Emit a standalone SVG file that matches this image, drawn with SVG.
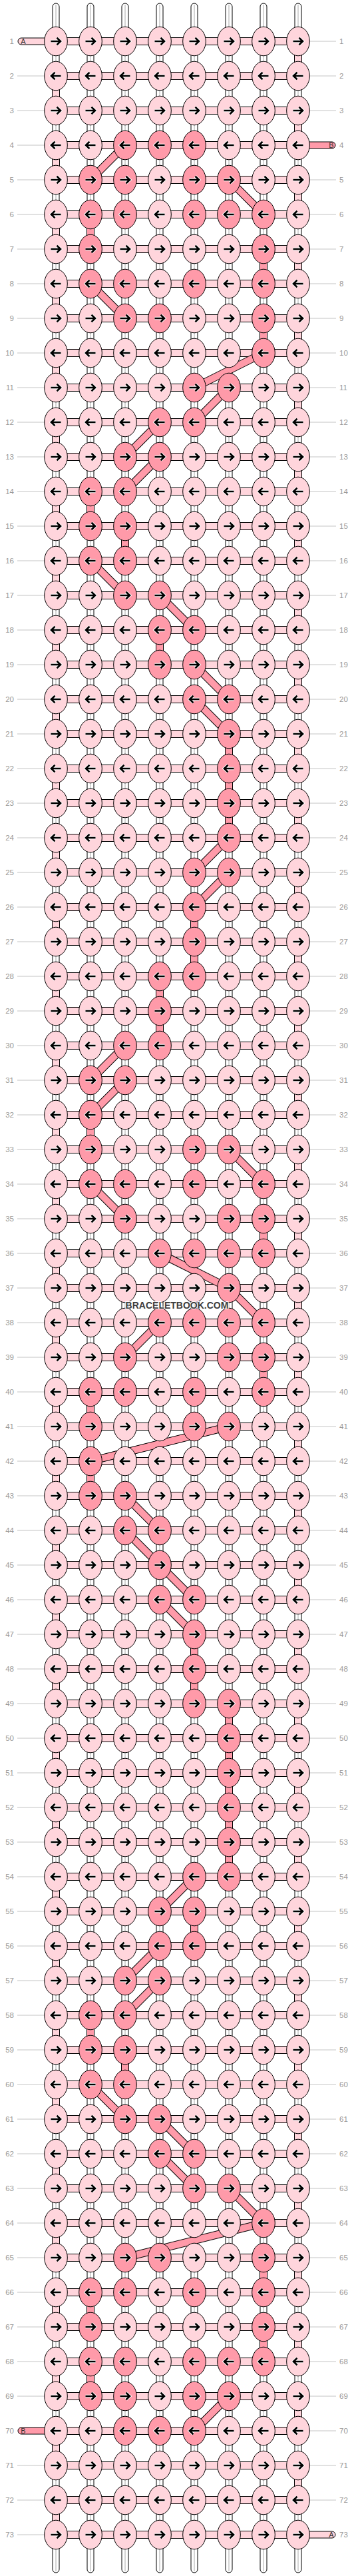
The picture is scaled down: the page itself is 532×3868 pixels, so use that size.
<svg xmlns="http://www.w3.org/2000/svg" xmlns:xlink="http://www.w3.org/1999/xlink" width="532" height="3868" viewBox="0 0 532 3868">
<style>
.t{font-family:"Liberation Sans",Arial,sans-serif;font-size:11.5px;fill:#999}
.lab{font-family:"Liberation Sans",Arial,sans-serif;font-size:11px;fill:#333;text-anchor:middle}
.ws{fill:#fff;stroke:#000;stroke-width:1}
.lt{fill:#ffd5dc;stroke:#000;stroke-width:1}
.dk{fill:#ff9aa9;stroke:#000;stroke-width:1}
.wm{font-family:"Liberation Sans",Arial,sans-serif;font-size:14px;font-weight:bold;fill:#3c3c3c;stroke:#fff;stroke-width:2;paint-order:stroke;text-anchor:middle}
</style>
<defs>
<g id="ar"><path d="M-7.5 0H6M1.5-5.2L7 0 1.5 5.2" fill="none" stroke="#fff" stroke-width="4.6"/><path d="M-7.5 0H6M1.5-5.2L7 0 1.5 5.2" fill="none" stroke="#000" stroke-width="2.6"/></g>
<g id="a"><ellipse rx="17.3" ry="21.8" class="lt"/><use href="#ar"/></g>
<g id="b"><ellipse rx="17.3" ry="21.8" class="lt"/><use href="#ar" transform="scale(-1 1)"/></g>
<g id="c"><ellipse rx="17.3" ry="21.8" class="dk"/><use href="#ar"/></g>
<g id="d"><ellipse rx="17.3" ry="21.8" class="dk"/><use href="#ar" transform="scale(-1 1)"/></g>
<path id="hp" d="M84 62H448M84 114H448M84 166H448M84 218H448M84 270H448M84 322H448M84 374H448M84 426H448M84 478H448M84 530H448M84 582H448M84 634H448M84 686H448M84 738H448M84 790H448M84 842H448M84 894H448M84 946H448M84 998H448M84 1050H448M84 1102H448M84 1154H448M84 1206H448M84 1258H448M84 1310H448M84 1362H448M84 1414H448M84 1466H448M84 1518H448M84 1570H448M84 1622H448M84 1674H448M84 1726H448M84 1778H448M84 1830H448M84 1882H448M84 1934H448M84 1986H448M84 2038H448M84 2090H448M84 2142H448M84 2194H448M84 2246H448M84 2298H448M84 2350H448M84 2402H448M84 2454H448M84 2506H448M84 2558H448M84 2610H448M84 2662H448M84 2714H448M84 2766H448M84 2818H448M84 2870H448M84 2922H448M84 2974H448M84 3026H448M84 3078H448M84 3130H448M84 3182H448M84 3234H448M84 3286H448M84 3338H448M84 3390H448M84 3442H448M84 3494H448M84 3546H448M84 3598H448M84 3650H448M84 3702H448M84 3754H448M84 3806H448"/>
<path id="ep" d="M448 62V3754M84 114V3806"/>
<path id="bp" d="M188 218L136 270M344 270L396 322M136 322V374M396 374V426M136 426L188 478M396 478V530M396 530L292 582M344 582L292 634M240 634L188 686M240 686L188 738M136 738V790M188 790V842M136 842L188 894M240 894L292 946M240 946V998M292 998L344 1050M292 1050L344 1102M344 1102V1258M344 1258L292 1310M344 1310L292 1362M292 1362V1466M240 1466V1570M188 1570L136 1622M188 1622L136 1674M136 1674V1726M344 1726L396 1778M136 1778L188 1830M396 1830V1882M240 1882L344 1934M344 1934L396 1986M240 1986L188 2038M396 2038V2090M136 2090V2142M344 2142L136 2194M136 2194V2246M188 2246L240 2298M188 2298L240 2350M240 2350L292 2402M240 2402L292 2454M292 2454V2558M344 2558V2818M292 2818L240 2870M292 2870V2922M240 2922L188 2974M240 2974L188 3026M136 3026V3078M188 3078V3130M136 3130L188 3182M240 3182L292 3234M240 3234L292 3286M344 3286L396 3338M396 3338L188 3390M396 3390V3442M136 3442V3494M396 3494V3546M136 3546V3598M344 3598L292 3650"/>
</defs>
<rect width="532" height="3868" fill="#fff"/>
<g id="strands">
<rect class="ws" x="79" y="5" width="10" height="3858" rx="5"/><rect class="ws" x="131" y="5" width="10" height="3858" rx="5"/><rect class="ws" x="183" y="5" width="10" height="3858" rx="5"/><rect class="ws" x="235" y="5" width="10" height="3858" rx="5"/><rect class="ws" x="287" y="5" width="10" height="3858" rx="5"/><rect class="ws" x="339" y="5" width="10" height="3858" rx="5"/><rect class="ws" x="391" y="5" width="10" height="3858" rx="5"/><rect class="ws" x="443" y="5" width="10" height="3858" rx="5"/>
<path d="M84 7V3861M136 7V3861M188 7V3861M240 7V3861M292 7V3861M344 7V3861M396 7V3861M448 7V3861" stroke="#aaa" stroke-width="1"/>
</g>
<g id="labels">
<path stroke="#c4c4c4" stroke-width="1" d="M26 114H66M26 166H66M26 218H66M26 270H66M26 322H66M26 374H66M26 426H66M26 478H66M26 530H66M26 582H66M26 634H66M26 686H66M26 738H66M26 790H66M26 842H66M26 894H66M26 946H66M26 998H66M26 1050H66M26 1102H66M26 1154H66M26 1206H66M26 1258H66M26 1310H66M26 1362H66M26 1414H66M26 1466H66M26 1518H66M26 1570H66M26 1622H66M26 1674H66M26 1726H66M26 1778H66M26 1830H66M26 1882H66M26 1934H66M26 1986H66M26 2038H66M26 2090H66M26 2142H66M26 2194H66M26 2246H66M26 2298H66M26 2350H66M26 2402H66M26 2454H66M26 2506H66M26 2558H66M26 2610H66M26 2662H66M26 2714H66M26 2766H66M26 2818H66M26 2870H66M26 2922H66M26 2974H66M26 3026H66M26 3078H66M26 3130H66M26 3182H66M26 3234H66M26 3286H66M26 3338H66M26 3390H66M26 3442H66M26 3494H66M26 3546H66M26 3598H66M26 3702H66M26 3754H66M26 3806H66
M466 62H505M466 114H505M466 166H505M466 270H505M466 322H505M466 374H505M466 426H505M466 478H505M466 530H505M466 582H505M466 634H505M466 686H505M466 738H505M466 790H505M466 842H505M466 894H505M466 946H505M466 998H505M466 1050H505M466 1102H505M466 1154H505M466 1206H505M466 1258H505M466 1310H505M466 1362H505M466 1414H505M466 1466H505M466 1518H505M466 1570H505M466 1622H505M466 1674H505M466 1726H505M466 1778H505M466 1830H505M466 1882H505M466 1934H505M466 1986H505M466 2038H505M466 2090H505M466 2142H505M466 2194H505M466 2246H505M466 2298H505M466 2350H505M466 2402H505M466 2454H505M466 2506H505M466 2558H505M466 2610H505M466 2662H505M466 2714H505M466 2766H505M466 2818H505M466 2870H505M466 2922H505M466 2974H505M466 3026H505M466 3078H505M466 3130H505M466 3182H505M466 3234H505M466 3286H505M466 3338H505M466 3390H505M466 3442H505M466 3494H505M466 3546H505M466 3598H505M466 3650H505M466 3702H505M466 3754H505"/>
<g class="t" text-anchor="end" transform="translate(21 4)">
<text y="62">1</text><text y="114">2</text><text y="166">3</text><text y="218">4</text><text y="270">5</text><text y="322">6</text><text y="374">7</text><text y="426">8</text><text y="478">9</text><text y="530">10</text><text y="582">11</text><text y="634">12</text><text y="686">13</text><text y="738">14</text><text y="790">15</text><text y="842">16</text><text y="894">17</text><text y="946">18</text><text y="998">19</text><text y="1050">20</text><text y="1102">21</text><text y="1154">22</text><text y="1206">23</text><text y="1258">24</text><text y="1310">25</text><text y="1362">26</text><text y="1414">27</text><text y="1466">28</text><text y="1518">29</text><text y="1570">30</text><text y="1622">31</text><text y="1674">32</text><text y="1726">33</text><text y="1778">34</text><text y="1830">35</text><text y="1882">36</text><text y="1934">37</text><text y="1986">38</text><text y="2038">39</text><text y="2090">40</text><text y="2142">41</text><text y="2194">42</text><text y="2246">43</text><text y="2298">44</text><text y="2350">45</text><text y="2402">46</text><text y="2454">47</text><text y="2506">48</text><text y="2558">49</text><text y="2610">50</text><text y="2662">51</text><text y="2714">52</text><text y="2766">53</text><text y="2818">54</text><text y="2870">55</text><text y="2922">56</text><text y="2974">57</text><text y="3026">58</text><text y="3078">59</text><text y="3130">60</text><text y="3182">61</text><text y="3234">62</text><text y="3286">63</text><text y="3338">64</text><text y="3390">65</text><text y="3442">66</text><text y="3494">67</text><text y="3546">68</text><text y="3598">69</text><text y="3650">70</text><text y="3702">71</text><text y="3754">72</text><text y="3806">73</text>
</g>
<g class="t" transform="translate(510 4)">
<text y="62">1</text><text y="114">2</text><text y="166">3</text><text y="218">4</text><text y="270">5</text><text y="322">6</text><text y="374">7</text><text y="426">8</text><text y="478">9</text><text y="530">10</text><text y="582">11</text><text y="634">12</text><text y="686">13</text><text y="738">14</text><text y="790">15</text><text y="842">16</text><text y="894">17</text><text y="946">18</text><text y="998">19</text><text y="1050">20</text><text y="1102">21</text><text y="1154">22</text><text y="1206">23</text><text y="1258">24</text><text y="1310">25</text><text y="1362">26</text><text y="1414">27</text><text y="1466">28</text><text y="1518">29</text><text y="1570">30</text><text y="1622">31</text><text y="1674">32</text><text y="1726">33</text><text y="1778">34</text><text y="1830">35</text><text y="1882">36</text><text y="1934">37</text><text y="1986">38</text><text y="2038">39</text><text y="2090">40</text><text y="2142">41</text><text y="2194">42</text><text y="2246">43</text><text y="2298">44</text><text y="2350">45</text><text y="2402">46</text><text y="2454">47</text><text y="2506">48</text><text y="2558">49</text><text y="2610">50</text><text y="2662">51</text><text y="2714">52</text><text y="2766">53</text><text y="2818">54</text><text y="2870">55</text><text y="2922">56</text><text y="2974">57</text><text y="3026">58</text><text y="3078">59</text><text y="3130">60</text><text y="3182">61</text><text y="3234">62</text><text y="3286">63</text><text y="3338">64</text><text y="3390">65</text><text y="3442">66</text><text y="3494">67</text><text y="3546">68</text><text y="3598">69</text><text y="3650">70</text><text y="3702">71</text><text y="3754">72</text><text y="3806">73</text>
</g>
</g>
<g id="connectors">
<use href="#hp" fill="none" stroke="#000" stroke-width="12"/>
<use href="#hp" fill="none" stroke="#ffd5dc" stroke-width="10"/>
<use href="#ep" fill="none" stroke="#000" stroke-width="12" stroke-dasharray="52 52"/>
<use href="#ep" fill="none" stroke="#ffd5dc" stroke-width="10" stroke-dasharray="52 52"/>
<rect x="27" y="57" width="62" height="10" rx="5" class="lt"/>
<rect x="443" y="3801" width="61" height="10" rx="5" class="lt"/>
<rect x="443" y="213" width="61" height="10" rx="5" class="dk"/>
<rect x="27" y="3645" width="62" height="10" rx="5" class="dk"/>
<use href="#bp" fill="none" stroke="#000" stroke-width="12"/>
<use href="#bp" fill="none" stroke="#ff9aa9" stroke-width="10"/>
<text class="lab" x="35" y="66">A</text>
<text class="lab" x="498" y="222">B</text>
<text class="lab" x="35" y="3654">B</text>
<text class="lab" x="498" y="3810">A</text>
</g>
<g id="knots">
<g transform="translate(0 62)"><g id="k1-1"><use href="#a" x="84"/></g><g id="k1-2"><use href="#a" x="136"/></g><g id="k1-3"><use href="#a" x="188"/></g><g id="k1-4"><use href="#a" x="240"/></g><g id="k1-5"><use href="#a" x="292"/></g><g id="k1-6"><use href="#a" x="344"/></g><g id="k1-7"><use href="#a" x="396"/></g><g id="k1-8"><use href="#a" x="448"/></g></g>
<g transform="translate(0 114)"><g id="k2-1"><use href="#b" x="84"/></g><g id="k2-2"><use href="#b" x="136"/></g><g id="k2-3"><use href="#b" x="188"/></g><g id="k2-4"><use href="#b" x="240"/></g><g id="k2-5"><use href="#b" x="292"/></g><g id="k2-6"><use href="#b" x="344"/></g><g id="k2-7"><use href="#b" x="396"/></g><g id="k2-8"><use href="#b" x="448"/></g></g>
<g transform="translate(0 166)"><g id="k3-1"><use href="#a" x="84"/></g><g id="k3-2"><use href="#a" x="136"/></g><g id="k3-3"><use href="#a" x="188"/></g><g id="k3-4"><use href="#a" x="240"/></g><g id="k3-5"><use href="#a" x="292"/></g><g id="k3-6"><use href="#a" x="344"/></g><g id="k3-7"><use href="#a" x="396"/></g><g id="k3-8"><use href="#a" x="448"/></g></g>
<g transform="translate(0 218)"><g id="k4-1"><use href="#b" x="84"/></g><g id="k4-2"><use href="#b" x="136"/></g><g id="k4-3"><use href="#d" x="188"/></g><g id="k4-4"><use href="#d" x="240"/></g><g id="k4-5"><use href="#d" x="292"/></g><g id="k4-6"><use href="#b" x="344"/></g><g id="k4-7"><use href="#b" x="396"/></g><g id="k4-8"><use href="#b" x="448"/></g></g>
<g transform="translate(0 270)"><g id="k5-1"><use href="#a" x="84"/></g><g id="k5-2"><use href="#c" x="136"/></g><g id="k5-3"><use href="#c" x="188"/></g><g id="k5-4"><use href="#a" x="240"/></g><g id="k5-5"><use href="#c" x="292"/></g><g id="k5-6"><use href="#c" x="344"/></g><g id="k5-7"><use href="#a" x="396"/></g><g id="k5-8"><use href="#a" x="448"/></g></g>
<g transform="translate(0 322)"><g id="k6-1"><use href="#b" x="84"/></g><g id="k6-2"><use href="#d" x="136"/></g><g id="k6-3"><use href="#d" x="188"/></g><g id="k6-4"><use href="#b" x="240"/></g><g id="k6-5"><use href="#d" x="292"/></g><g id="k6-6"><use href="#d" x="344"/></g><g id="k6-7"><use href="#d" x="396"/></g><g id="k6-8"><use href="#b" x="448"/></g></g>
<g transform="translate(0 374)"><g id="k7-1"><use href="#a" x="84"/></g><g id="k7-2"><use href="#c" x="136"/></g><g id="k7-3"><use href="#a" x="188"/></g><g id="k7-4"><use href="#a" x="240"/></g><g id="k7-5"><use href="#a" x="292"/></g><g id="k7-6"><use href="#a" x="344"/></g><g id="k7-7"><use href="#c" x="396"/></g><g id="k7-8"><use href="#a" x="448"/></g></g>
<g transform="translate(0 426)"><g id="k8-1"><use href="#b" x="84"/></g><g id="k8-2"><use href="#d" x="136"/></g><g id="k8-3"><use href="#d" x="188"/></g><g id="k8-4"><use href="#b" x="240"/></g><g id="k8-5"><use href="#d" x="292"/></g><g id="k8-6"><use href="#b" x="344"/></g><g id="k8-7"><use href="#d" x="396"/></g><g id="k8-8"><use href="#b" x="448"/></g></g>
<g transform="translate(0 478)"><g id="k9-1"><use href="#a" x="84"/></g><g id="k9-2"><use href="#a" x="136"/></g><g id="k9-3"><use href="#c" x="188"/></g><g id="k9-4"><use href="#c" x="240"/></g><g id="k9-5"><use href="#a" x="292"/></g><g id="k9-6"><use href="#a" x="344"/></g><g id="k9-7"><use href="#c" x="396"/></g><g id="k9-8"><use href="#a" x="448"/></g></g>
<g transform="translate(0 530)"><g id="k10-1"><use href="#b" x="84"/></g><g id="k10-2"><use href="#b" x="136"/></g><g id="k10-3"><use href="#b" x="188"/></g><g id="k10-4"><use href="#b" x="240"/></g><g id="k10-5"><use href="#b" x="292"/></g><g id="k10-6"><use href="#b" x="344"/></g><g id="k10-7"><use href="#d" x="396"/></g><g id="k10-8"><use href="#b" x="448"/></g></g>
<g transform="translate(0 582)"><g id="k11-1"><use href="#a" x="84"/></g><g id="k11-2"><use href="#a" x="136"/></g><g id="k11-3"><use href="#a" x="188"/></g><g id="k11-4"><use href="#a" x="240"/></g><g id="k11-5"><use href="#c" x="292"/></g><g id="k11-6"><use href="#c" x="344"/></g><g id="k11-7"><use href="#a" x="396"/></g><g id="k11-8"><use href="#a" x="448"/></g></g>
<g transform="translate(0 634)"><g id="k12-1"><use href="#b" x="84"/></g><g id="k12-2"><use href="#b" x="136"/></g><g id="k12-3"><use href="#b" x="188"/></g><g id="k12-4"><use href="#d" x="240"/></g><g id="k12-5"><use href="#d" x="292"/></g><g id="k12-6"><use href="#b" x="344"/></g><g id="k12-7"><use href="#b" x="396"/></g><g id="k12-8"><use href="#b" x="448"/></g></g>
<g transform="translate(0 686)"><g id="k13-1"><use href="#a" x="84"/></g><g id="k13-2"><use href="#a" x="136"/></g><g id="k13-3"><use href="#c" x="188"/></g><g id="k13-4"><use href="#c" x="240"/></g><g id="k13-5"><use href="#a" x="292"/></g><g id="k13-6"><use href="#a" x="344"/></g><g id="k13-7"><use href="#a" x="396"/></g><g id="k13-8"><use href="#a" x="448"/></g></g>
<g transform="translate(0 738)"><g id="k14-1"><use href="#b" x="84"/></g><g id="k14-2"><use href="#d" x="136"/></g><g id="k14-3"><use href="#d" x="188"/></g><g id="k14-4"><use href="#b" x="240"/></g><g id="k14-5"><use href="#b" x="292"/></g><g id="k14-6"><use href="#b" x="344"/></g><g id="k14-7"><use href="#b" x="396"/></g><g id="k14-8"><use href="#b" x="448"/></g></g>
<g transform="translate(0 790)"><g id="k15-1"><use href="#a" x="84"/></g><g id="k15-2"><use href="#c" x="136"/></g><g id="k15-3"><use href="#c" x="188"/></g><g id="k15-4"><use href="#a" x="240"/></g><g id="k15-5"><use href="#a" x="292"/></g><g id="k15-6"><use href="#a" x="344"/></g><g id="k15-7"><use href="#a" x="396"/></g><g id="k15-8"><use href="#a" x="448"/></g></g>
<g transform="translate(0 842)"><g id="k16-1"><use href="#b" x="84"/></g><g id="k16-2"><use href="#d" x="136"/></g><g id="k16-3"><use href="#d" x="188"/></g><g id="k16-4"><use href="#b" x="240"/></g><g id="k16-5"><use href="#b" x="292"/></g><g id="k16-6"><use href="#b" x="344"/></g><g id="k16-7"><use href="#b" x="396"/></g><g id="k16-8"><use href="#b" x="448"/></g></g>
<g transform="translate(0 894)"><g id="k17-1"><use href="#a" x="84"/></g><g id="k17-2"><use href="#a" x="136"/></g><g id="k17-3"><use href="#c" x="188"/></g><g id="k17-4"><use href="#c" x="240"/></g><g id="k17-5"><use href="#a" x="292"/></g><g id="k17-6"><use href="#a" x="344"/></g><g id="k17-7"><use href="#a" x="396"/></g><g id="k17-8"><use href="#a" x="448"/></g></g>
<g transform="translate(0 946)"><g id="k18-1"><use href="#b" x="84"/></g><g id="k18-2"><use href="#b" x="136"/></g><g id="k18-3"><use href="#b" x="188"/></g><g id="k18-4"><use href="#d" x="240"/></g><g id="k18-5"><use href="#d" x="292"/></g><g id="k18-6"><use href="#b" x="344"/></g><g id="k18-7"><use href="#b" x="396"/></g><g id="k18-8"><use href="#b" x="448"/></g></g>
<g transform="translate(0 998)"><g id="k19-1"><use href="#a" x="84"/></g><g id="k19-2"><use href="#a" x="136"/></g><g id="k19-3"><use href="#a" x="188"/></g><g id="k19-4"><use href="#c" x="240"/></g><g id="k19-5"><use href="#c" x="292"/></g><g id="k19-6"><use href="#a" x="344"/></g><g id="k19-7"><use href="#a" x="396"/></g><g id="k19-8"><use href="#a" x="448"/></g></g>
<g transform="translate(0 1050)"><g id="k20-1"><use href="#b" x="84"/></g><g id="k20-2"><use href="#b" x="136"/></g><g id="k20-3"><use href="#b" x="188"/></g><g id="k20-4"><use href="#b" x="240"/></g><g id="k20-5"><use href="#d" x="292"/></g><g id="k20-6"><use href="#d" x="344"/></g><g id="k20-7"><use href="#b" x="396"/></g><g id="k20-8"><use href="#b" x="448"/></g></g>
<g transform="translate(0 1102)"><g id="k21-1"><use href="#a" x="84"/></g><g id="k21-2"><use href="#a" x="136"/></g><g id="k21-3"><use href="#a" x="188"/></g><g id="k21-4"><use href="#a" x="240"/></g><g id="k21-5"><use href="#a" x="292"/></g><g id="k21-6"><use href="#c" x="344"/></g><g id="k21-7"><use href="#a" x="396"/></g><g id="k21-8"><use href="#a" x="448"/></g></g>
<g transform="translate(0 1154)"><g id="k22-1"><use href="#b" x="84"/></g><g id="k22-2"><use href="#b" x="136"/></g><g id="k22-3"><use href="#b" x="188"/></g><g id="k22-4"><use href="#b" x="240"/></g><g id="k22-5"><use href="#b" x="292"/></g><g id="k22-6"><use href="#d" x="344"/></g><g id="k22-7"><use href="#b" x="396"/></g><g id="k22-8"><use href="#b" x="448"/></g></g>
<g transform="translate(0 1206)"><g id="k23-1"><use href="#a" x="84"/></g><g id="k23-2"><use href="#a" x="136"/></g><g id="k23-3"><use href="#a" x="188"/></g><g id="k23-4"><use href="#a" x="240"/></g><g id="k23-5"><use href="#a" x="292"/></g><g id="k23-6"><use href="#c" x="344"/></g><g id="k23-7"><use href="#a" x="396"/></g><g id="k23-8"><use href="#a" x="448"/></g></g>
<g transform="translate(0 1258)"><g id="k24-1"><use href="#b" x="84"/></g><g id="k24-2"><use href="#b" x="136"/></g><g id="k24-3"><use href="#b" x="188"/></g><g id="k24-4"><use href="#b" x="240"/></g><g id="k24-5"><use href="#b" x="292"/></g><g id="k24-6"><use href="#d" x="344"/></g><g id="k24-7"><use href="#b" x="396"/></g><g id="k24-8"><use href="#b" x="448"/></g></g>
<g transform="translate(0 1310)"><g id="k25-1"><use href="#a" x="84"/></g><g id="k25-2"><use href="#a" x="136"/></g><g id="k25-3"><use href="#a" x="188"/></g><g id="k25-4"><use href="#a" x="240"/></g><g id="k25-5"><use href="#c" x="292"/></g><g id="k25-6"><use href="#c" x="344"/></g><g id="k25-7"><use href="#a" x="396"/></g><g id="k25-8"><use href="#a" x="448"/></g></g>
<g transform="translate(0 1362)"><g id="k26-1"><use href="#b" x="84"/></g><g id="k26-2"><use href="#b" x="136"/></g><g id="k26-3"><use href="#b" x="188"/></g><g id="k26-4"><use href="#b" x="240"/></g><g id="k26-5"><use href="#d" x="292"/></g><g id="k26-6"><use href="#b" x="344"/></g><g id="k26-7"><use href="#b" x="396"/></g><g id="k26-8"><use href="#b" x="448"/></g></g>
<g transform="translate(0 1414)"><g id="k27-1"><use href="#a" x="84"/></g><g id="k27-2"><use href="#a" x="136"/></g><g id="k27-3"><use href="#a" x="188"/></g><g id="k27-4"><use href="#a" x="240"/></g><g id="k27-5"><use href="#c" x="292"/></g><g id="k27-6"><use href="#a" x="344"/></g><g id="k27-7"><use href="#a" x="396"/></g><g id="k27-8"><use href="#a" x="448"/></g></g>
<g transform="translate(0 1466)"><g id="k28-1"><use href="#b" x="84"/></g><g id="k28-2"><use href="#b" x="136"/></g><g id="k28-3"><use href="#b" x="188"/></g><g id="k28-4"><use href="#d" x="240"/></g><g id="k28-5"><use href="#d" x="292"/></g><g id="k28-6"><use href="#b" x="344"/></g><g id="k28-7"><use href="#b" x="396"/></g><g id="k28-8"><use href="#b" x="448"/></g></g>
<g transform="translate(0 1518)"><g id="k29-1"><use href="#a" x="84"/></g><g id="k29-2"><use href="#a" x="136"/></g><g id="k29-3"><use href="#a" x="188"/></g><g id="k29-4"><use href="#c" x="240"/></g><g id="k29-5"><use href="#a" x="292"/></g><g id="k29-6"><use href="#a" x="344"/></g><g id="k29-7"><use href="#a" x="396"/></g><g id="k29-8"><use href="#a" x="448"/></g></g>
<g transform="translate(0 1570)"><g id="k30-1"><use href="#b" x="84"/></g><g id="k30-2"><use href="#b" x="136"/></g><g id="k30-3"><use href="#d" x="188"/></g><g id="k30-4"><use href="#d" x="240"/></g><g id="k30-5"><use href="#b" x="292"/></g><g id="k30-6"><use href="#b" x="344"/></g><g id="k30-7"><use href="#b" x="396"/></g><g id="k30-8"><use href="#b" x="448"/></g></g>
<g transform="translate(0 1622)"><g id="k31-1"><use href="#a" x="84"/></g><g id="k31-2"><use href="#c" x="136"/></g><g id="k31-3"><use href="#c" x="188"/></g><g id="k31-4"><use href="#a" x="240"/></g><g id="k31-5"><use href="#a" x="292"/></g><g id="k31-6"><use href="#a" x="344"/></g><g id="k31-7"><use href="#a" x="396"/></g><g id="k31-8"><use href="#a" x="448"/></g></g>
<g transform="translate(0 1674)"><g id="k32-1"><use href="#b" x="84"/></g><g id="k32-2"><use href="#d" x="136"/></g><g id="k32-3"><use href="#b" x="188"/></g><g id="k32-4"><use href="#b" x="240"/></g><g id="k32-5"><use href="#b" x="292"/></g><g id="k32-6"><use href="#b" x="344"/></g><g id="k32-7"><use href="#b" x="396"/></g><g id="k32-8"><use href="#b" x="448"/></g></g>
<g transform="translate(0 1726)"><g id="k33-1"><use href="#a" x="84"/></g><g id="k33-2"><use href="#c" x="136"/></g><g id="k33-3"><use href="#a" x="188"/></g><g id="k33-4"><use href="#a" x="240"/></g><g id="k33-5"><use href="#c" x="292"/></g><g id="k33-6"><use href="#c" x="344"/></g><g id="k33-7"><use href="#a" x="396"/></g><g id="k33-8"><use href="#a" x="448"/></g></g>
<g transform="translate(0 1778)"><g id="k34-1"><use href="#b" x="84"/></g><g id="k34-2"><use href="#d" x="136"/></g><g id="k34-3"><use href="#d" x="188"/></g><g id="k34-4"><use href="#b" x="240"/></g><g id="k34-5"><use href="#d" x="292"/></g><g id="k34-6"><use href="#b" x="344"/></g><g id="k34-7"><use href="#d" x="396"/></g><g id="k34-8"><use href="#b" x="448"/></g></g>
<g transform="translate(0 1830)"><g id="k35-1"><use href="#a" x="84"/></g><g id="k35-2"><use href="#a" x="136"/></g><g id="k35-3"><use href="#c" x="188"/></g><g id="k35-4"><use href="#a" x="240"/></g><g id="k35-5"><use href="#a" x="292"/></g><g id="k35-6"><use href="#c" x="344"/></g><g id="k35-7"><use href="#c" x="396"/></g><g id="k35-8"><use href="#a" x="448"/></g></g>
<g transform="translate(0 1882)"><g id="k36-1"><use href="#b" x="84"/></g><g id="k36-2"><use href="#b" x="136"/></g><g id="k36-3"><use href="#b" x="188"/></g><g id="k36-4"><use href="#d" x="240"/></g><g id="k36-5"><use href="#d" x="292"/></g><g id="k36-6"><use href="#d" x="344"/></g><g id="k36-7"><use href="#d" x="396"/></g><g id="k36-8"><use href="#b" x="448"/></g></g>
<g transform="translate(0 1934)"><g id="k37-1"><use href="#a" x="84"/></g><g id="k37-2"><use href="#a" x="136"/></g><g id="k37-3"><use href="#a" x="188"/></g><g id="k37-4"><use href="#a" x="240"/></g><g id="k37-5"><use href="#a" x="292"/></g><g id="k37-6"><use href="#c" x="344"/></g><g id="k37-7"><use href="#a" x="396"/></g><g id="k37-8"><use href="#a" x="448"/></g></g>
<g transform="translate(0 1986)"><g id="k38-1"><use href="#b" x="84"/></g><g id="k38-2"><use href="#b" x="136"/></g><g id="k38-3"><use href="#b" x="188"/></g><g id="k38-4"><use href="#d" x="240"/></g><g id="k38-5"><use href="#d" x="292"/></g><g id="k38-6"><use href="#d" x="344"/></g><g id="k38-7"><use href="#d" x="396"/></g><g id="k38-8"><use href="#b" x="448"/></g></g>
<g transform="translate(0 2038)"><g id="k39-1"><use href="#a" x="84"/></g><g id="k39-2"><use href="#a" x="136"/></g><g id="k39-3"><use href="#c" x="188"/></g><g id="k39-4"><use href="#a" x="240"/></g><g id="k39-5"><use href="#a" x="292"/></g><g id="k39-6"><use href="#c" x="344"/></g><g id="k39-7"><use href="#c" x="396"/></g><g id="k39-8"><use href="#a" x="448"/></g></g>
<g transform="translate(0 2090)"><g id="k40-1"><use href="#b" x="84"/></g><g id="k40-2"><use href="#d" x="136"/></g><g id="k40-3"><use href="#d" x="188"/></g><g id="k40-4"><use href="#b" x="240"/></g><g id="k40-5"><use href="#d" x="292"/></g><g id="k40-6"><use href="#b" x="344"/></g><g id="k40-7"><use href="#d" x="396"/></g><g id="k40-8"><use href="#b" x="448"/></g></g>
<g transform="translate(0 2142)"><g id="k41-1"><use href="#a" x="84"/></g><g id="k41-2"><use href="#c" x="136"/></g><g id="k41-3"><use href="#a" x="188"/></g><g id="k41-4"><use href="#a" x="240"/></g><g id="k41-5"><use href="#c" x="292"/></g><g id="k41-6"><use href="#c" x="344"/></g><g id="k41-7"><use href="#a" x="396"/></g><g id="k41-8"><use href="#a" x="448"/></g></g>
<g transform="translate(0 2194)"><g id="k42-1"><use href="#b" x="84"/></g><g id="k42-2"><use href="#d" x="136"/></g><g id="k42-3"><use href="#b" x="188"/></g><g id="k42-4"><use href="#b" x="240"/></g><g id="k42-5"><use href="#b" x="292"/></g><g id="k42-6"><use href="#b" x="344"/></g><g id="k42-7"><use href="#b" x="396"/></g><g id="k42-8"><use href="#b" x="448"/></g></g>
<g transform="translate(0 2246)"><g id="k43-1"><use href="#a" x="84"/></g><g id="k43-2"><use href="#c" x="136"/></g><g id="k43-3"><use href="#c" x="188"/></g><g id="k43-4"><use href="#a" x="240"/></g><g id="k43-5"><use href="#a" x="292"/></g><g id="k43-6"><use href="#a" x="344"/></g><g id="k43-7"><use href="#a" x="396"/></g><g id="k43-8"><use href="#a" x="448"/></g></g>
<g transform="translate(0 2298)"><g id="k44-1"><use href="#b" x="84"/></g><g id="k44-2"><use href="#b" x="136"/></g><g id="k44-3"><use href="#d" x="188"/></g><g id="k44-4"><use href="#d" x="240"/></g><g id="k44-5"><use href="#b" x="292"/></g><g id="k44-6"><use href="#b" x="344"/></g><g id="k44-7"><use href="#b" x="396"/></g><g id="k44-8"><use href="#b" x="448"/></g></g>
<g transform="translate(0 2350)"><g id="k45-1"><use href="#a" x="84"/></g><g id="k45-2"><use href="#a" x="136"/></g><g id="k45-3"><use href="#a" x="188"/></g><g id="k45-4"><use href="#c" x="240"/></g><g id="k45-5"><use href="#a" x="292"/></g><g id="k45-6"><use href="#a" x="344"/></g><g id="k45-7"><use href="#a" x="396"/></g><g id="k45-8"><use href="#a" x="448"/></g></g>
<g transform="translate(0 2402)"><g id="k46-1"><use href="#b" x="84"/></g><g id="k46-2"><use href="#b" x="136"/></g><g id="k46-3"><use href="#b" x="188"/></g><g id="k46-4"><use href="#d" x="240"/></g><g id="k46-5"><use href="#d" x="292"/></g><g id="k46-6"><use href="#b" x="344"/></g><g id="k46-7"><use href="#b" x="396"/></g><g id="k46-8"><use href="#b" x="448"/></g></g>
<g transform="translate(0 2454)"><g id="k47-1"><use href="#a" x="84"/></g><g id="k47-2"><use href="#a" x="136"/></g><g id="k47-3"><use href="#a" x="188"/></g><g id="k47-4"><use href="#a" x="240"/></g><g id="k47-5"><use href="#c" x="292"/></g><g id="k47-6"><use href="#a" x="344"/></g><g id="k47-7"><use href="#a" x="396"/></g><g id="k47-8"><use href="#a" x="448"/></g></g>
<g transform="translate(0 2506)"><g id="k48-1"><use href="#b" x="84"/></g><g id="k48-2"><use href="#b" x="136"/></g><g id="k48-3"><use href="#b" x="188"/></g><g id="k48-4"><use href="#b" x="240"/></g><g id="k48-5"><use href="#d" x="292"/></g><g id="k48-6"><use href="#b" x="344"/></g><g id="k48-7"><use href="#b" x="396"/></g><g id="k48-8"><use href="#b" x="448"/></g></g>
<g transform="translate(0 2558)"><g id="k49-1"><use href="#a" x="84"/></g><g id="k49-2"><use href="#a" x="136"/></g><g id="k49-3"><use href="#a" x="188"/></g><g id="k49-4"><use href="#a" x="240"/></g><g id="k49-5"><use href="#c" x="292"/></g><g id="k49-6"><use href="#c" x="344"/></g><g id="k49-7"><use href="#a" x="396"/></g><g id="k49-8"><use href="#a" x="448"/></g></g>
<g transform="translate(0 2610)"><g id="k50-1"><use href="#b" x="84"/></g><g id="k50-2"><use href="#b" x="136"/></g><g id="k50-3"><use href="#b" x="188"/></g><g id="k50-4"><use href="#b" x="240"/></g><g id="k50-5"><use href="#b" x="292"/></g><g id="k50-6"><use href="#d" x="344"/></g><g id="k50-7"><use href="#b" x="396"/></g><g id="k50-8"><use href="#b" x="448"/></g></g>
<g transform="translate(0 2662)"><g id="k51-1"><use href="#a" x="84"/></g><g id="k51-2"><use href="#a" x="136"/></g><g id="k51-3"><use href="#a" x="188"/></g><g id="k51-4"><use href="#a" x="240"/></g><g id="k51-5"><use href="#a" x="292"/></g><g id="k51-6"><use href="#c" x="344"/></g><g id="k51-7"><use href="#a" x="396"/></g><g id="k51-8"><use href="#a" x="448"/></g></g>
<g transform="translate(0 2714)"><g id="k52-1"><use href="#b" x="84"/></g><g id="k52-2"><use href="#b" x="136"/></g><g id="k52-3"><use href="#b" x="188"/></g><g id="k52-4"><use href="#b" x="240"/></g><g id="k52-5"><use href="#b" x="292"/></g><g id="k52-6"><use href="#d" x="344"/></g><g id="k52-7"><use href="#b" x="396"/></g><g id="k52-8"><use href="#b" x="448"/></g></g>
<g transform="translate(0 2766)"><g id="k53-1"><use href="#a" x="84"/></g><g id="k53-2"><use href="#a" x="136"/></g><g id="k53-3"><use href="#a" x="188"/></g><g id="k53-4"><use href="#a" x="240"/></g><g id="k53-5"><use href="#a" x="292"/></g><g id="k53-6"><use href="#c" x="344"/></g><g id="k53-7"><use href="#a" x="396"/></g><g id="k53-8"><use href="#a" x="448"/></g></g>
<g transform="translate(0 2818)"><g id="k54-1"><use href="#b" x="84"/></g><g id="k54-2"><use href="#b" x="136"/></g><g id="k54-3"><use href="#b" x="188"/></g><g id="k54-4"><use href="#b" x="240"/></g><g id="k54-5"><use href="#d" x="292"/></g><g id="k54-6"><use href="#d" x="344"/></g><g id="k54-7"><use href="#b" x="396"/></g><g id="k54-8"><use href="#b" x="448"/></g></g>
<g transform="translate(0 2870)"><g id="k55-1"><use href="#a" x="84"/></g><g id="k55-2"><use href="#a" x="136"/></g><g id="k55-3"><use href="#a" x="188"/></g><g id="k55-4"><use href="#c" x="240"/></g><g id="k55-5"><use href="#c" x="292"/></g><g id="k55-6"><use href="#a" x="344"/></g><g id="k55-7"><use href="#a" x="396"/></g><g id="k55-8"><use href="#a" x="448"/></g></g>
<g transform="translate(0 2922)"><g id="k56-1"><use href="#b" x="84"/></g><g id="k56-2"><use href="#b" x="136"/></g><g id="k56-3"><use href="#b" x="188"/></g><g id="k56-4"><use href="#d" x="240"/></g><g id="k56-5"><use href="#d" x="292"/></g><g id="k56-6"><use href="#b" x="344"/></g><g id="k56-7"><use href="#b" x="396"/></g><g id="k56-8"><use href="#b" x="448"/></g></g>
<g transform="translate(0 2974)"><g id="k57-1"><use href="#a" x="84"/></g><g id="k57-2"><use href="#a" x="136"/></g><g id="k57-3"><use href="#c" x="188"/></g><g id="k57-4"><use href="#c" x="240"/></g><g id="k57-5"><use href="#a" x="292"/></g><g id="k57-6"><use href="#a" x="344"/></g><g id="k57-7"><use href="#a" x="396"/></g><g id="k57-8"><use href="#a" x="448"/></g></g>
<g transform="translate(0 3026)"><g id="k58-1"><use href="#b" x="84"/></g><g id="k58-2"><use href="#d" x="136"/></g><g id="k58-3"><use href="#d" x="188"/></g><g id="k58-4"><use href="#b" x="240"/></g><g id="k58-5"><use href="#b" x="292"/></g><g id="k58-6"><use href="#b" x="344"/></g><g id="k58-7"><use href="#b" x="396"/></g><g id="k58-8"><use href="#b" x="448"/></g></g>
<g transform="translate(0 3078)"><g id="k59-1"><use href="#a" x="84"/></g><g id="k59-2"><use href="#c" x="136"/></g><g id="k59-3"><use href="#c" x="188"/></g><g id="k59-4"><use href="#a" x="240"/></g><g id="k59-5"><use href="#a" x="292"/></g><g id="k59-6"><use href="#a" x="344"/></g><g id="k59-7"><use href="#a" x="396"/></g><g id="k59-8"><use href="#a" x="448"/></g></g>
<g transform="translate(0 3130)"><g id="k60-1"><use href="#b" x="84"/></g><g id="k60-2"><use href="#d" x="136"/></g><g id="k60-3"><use href="#d" x="188"/></g><g id="k60-4"><use href="#b" x="240"/></g><g id="k60-5"><use href="#b" x="292"/></g><g id="k60-6"><use href="#b" x="344"/></g><g id="k60-7"><use href="#b" x="396"/></g><g id="k60-8"><use href="#b" x="448"/></g></g>
<g transform="translate(0 3182)"><g id="k61-1"><use href="#a" x="84"/></g><g id="k61-2"><use href="#a" x="136"/></g><g id="k61-3"><use href="#c" x="188"/></g><g id="k61-4"><use href="#c" x="240"/></g><g id="k61-5"><use href="#a" x="292"/></g><g id="k61-6"><use href="#a" x="344"/></g><g id="k61-7"><use href="#a" x="396"/></g><g id="k61-8"><use href="#a" x="448"/></g></g>
<g transform="translate(0 3234)"><g id="k62-1"><use href="#b" x="84"/></g><g id="k62-2"><use href="#b" x="136"/></g><g id="k62-3"><use href="#b" x="188"/></g><g id="k62-4"><use href="#d" x="240"/></g><g id="k62-5"><use href="#d" x="292"/></g><g id="k62-6"><use href="#b" x="344"/></g><g id="k62-7"><use href="#b" x="396"/></g><g id="k62-8"><use href="#b" x="448"/></g></g>
<g transform="translate(0 3286)"><g id="k63-1"><use href="#a" x="84"/></g><g id="k63-2"><use href="#a" x="136"/></g><g id="k63-3"><use href="#a" x="188"/></g><g id="k63-4"><use href="#a" x="240"/></g><g id="k63-5"><use href="#c" x="292"/></g><g id="k63-6"><use href="#c" x="344"/></g><g id="k63-7"><use href="#a" x="396"/></g><g id="k63-8"><use href="#a" x="448"/></g></g>
<g transform="translate(0 3338)"><g id="k64-1"><use href="#b" x="84"/></g><g id="k64-2"><use href="#b" x="136"/></g><g id="k64-3"><use href="#b" x="188"/></g><g id="k64-4"><use href="#b" x="240"/></g><g id="k64-5"><use href="#b" x="292"/></g><g id="k64-6"><use href="#b" x="344"/></g><g id="k64-7"><use href="#d" x="396"/></g><g id="k64-8"><use href="#b" x="448"/></g></g>
<g transform="translate(0 3390)"><g id="k65-1"><use href="#a" x="84"/></g><g id="k65-2"><use href="#a" x="136"/></g><g id="k65-3"><use href="#c" x="188"/></g><g id="k65-4"><use href="#c" x="240"/></g><g id="k65-5"><use href="#a" x="292"/></g><g id="k65-6"><use href="#a" x="344"/></g><g id="k65-7"><use href="#c" x="396"/></g><g id="k65-8"><use href="#a" x="448"/></g></g>
<g transform="translate(0 3442)"><g id="k66-1"><use href="#b" x="84"/></g><g id="k66-2"><use href="#d" x="136"/></g><g id="k66-3"><use href="#d" x="188"/></g><g id="k66-4"><use href="#b" x="240"/></g><g id="k66-5"><use href="#d" x="292"/></g><g id="k66-6"><use href="#b" x="344"/></g><g id="k66-7"><use href="#d" x="396"/></g><g id="k66-8"><use href="#b" x="448"/></g></g>
<g transform="translate(0 3494)"><g id="k67-1"><use href="#a" x="84"/></g><g id="k67-2"><use href="#c" x="136"/></g><g id="k67-3"><use href="#a" x="188"/></g><g id="k67-4"><use href="#a" x="240"/></g><g id="k67-5"><use href="#a" x="292"/></g><g id="k67-6"><use href="#a" x="344"/></g><g id="k67-7"><use href="#c" x="396"/></g><g id="k67-8"><use href="#a" x="448"/></g></g>
<g transform="translate(0 3546)"><g id="k68-1"><use href="#b" x="84"/></g><g id="k68-2"><use href="#d" x="136"/></g><g id="k68-3"><use href="#d" x="188"/></g><g id="k68-4"><use href="#b" x="240"/></g><g id="k68-5"><use href="#d" x="292"/></g><g id="k68-6"><use href="#d" x="344"/></g><g id="k68-7"><use href="#d" x="396"/></g><g id="k68-8"><use href="#b" x="448"/></g></g>
<g transform="translate(0 3598)"><g id="k69-1"><use href="#a" x="84"/></g><g id="k69-2"><use href="#c" x="136"/></g><g id="k69-3"><use href="#c" x="188"/></g><g id="k69-4"><use href="#a" x="240"/></g><g id="k69-5"><use href="#c" x="292"/></g><g id="k69-6"><use href="#c" x="344"/></g><g id="k69-7"><use href="#a" x="396"/></g><g id="k69-8"><use href="#a" x="448"/></g></g>
<g transform="translate(0 3650)"><g id="k70-1"><use href="#b" x="84"/></g><g id="k70-2"><use href="#b" x="136"/></g><g id="k70-3"><use href="#d" x="188"/></g><g id="k70-4"><use href="#d" x="240"/></g><g id="k70-5"><use href="#d" x="292"/></g><g id="k70-6"><use href="#b" x="344"/></g><g id="k70-7"><use href="#b" x="396"/></g><g id="k70-8"><use href="#b" x="448"/></g></g>
<g transform="translate(0 3702)"><g id="k71-1"><use href="#a" x="84"/></g><g id="k71-2"><use href="#a" x="136"/></g><g id="k71-3"><use href="#a" x="188"/></g><g id="k71-4"><use href="#a" x="240"/></g><g id="k71-5"><use href="#a" x="292"/></g><g id="k71-6"><use href="#a" x="344"/></g><g id="k71-7"><use href="#a" x="396"/></g><g id="k71-8"><use href="#a" x="448"/></g></g>
<g transform="translate(0 3754)"><g id="k72-1"><use href="#b" x="84"/></g><g id="k72-2"><use href="#b" x="136"/></g><g id="k72-3"><use href="#b" x="188"/></g><g id="k72-4"><use href="#b" x="240"/></g><g id="k72-5"><use href="#b" x="292"/></g><g id="k72-6"><use href="#b" x="344"/></g><g id="k72-7"><use href="#b" x="396"/></g><g id="k72-8"><use href="#b" x="448"/></g></g>
<g transform="translate(0 3806)"><g id="k73-1"><use href="#a" x="84"/></g><g id="k73-2"><use href="#a" x="136"/></g><g id="k73-3"><use href="#a" x="188"/></g><g id="k73-4"><use href="#a" x="240"/></g><g id="k73-5"><use href="#a" x="292"/></g><g id="k73-6"><use href="#a" x="344"/></g><g id="k73-7"><use href="#a" x="396"/></g><g id="k73-8"><use href="#a" x="448"/></g></g>
</g>
<text class="wm" x="266" y="1965">BRACELETBOOK.COM</text>
</svg>
